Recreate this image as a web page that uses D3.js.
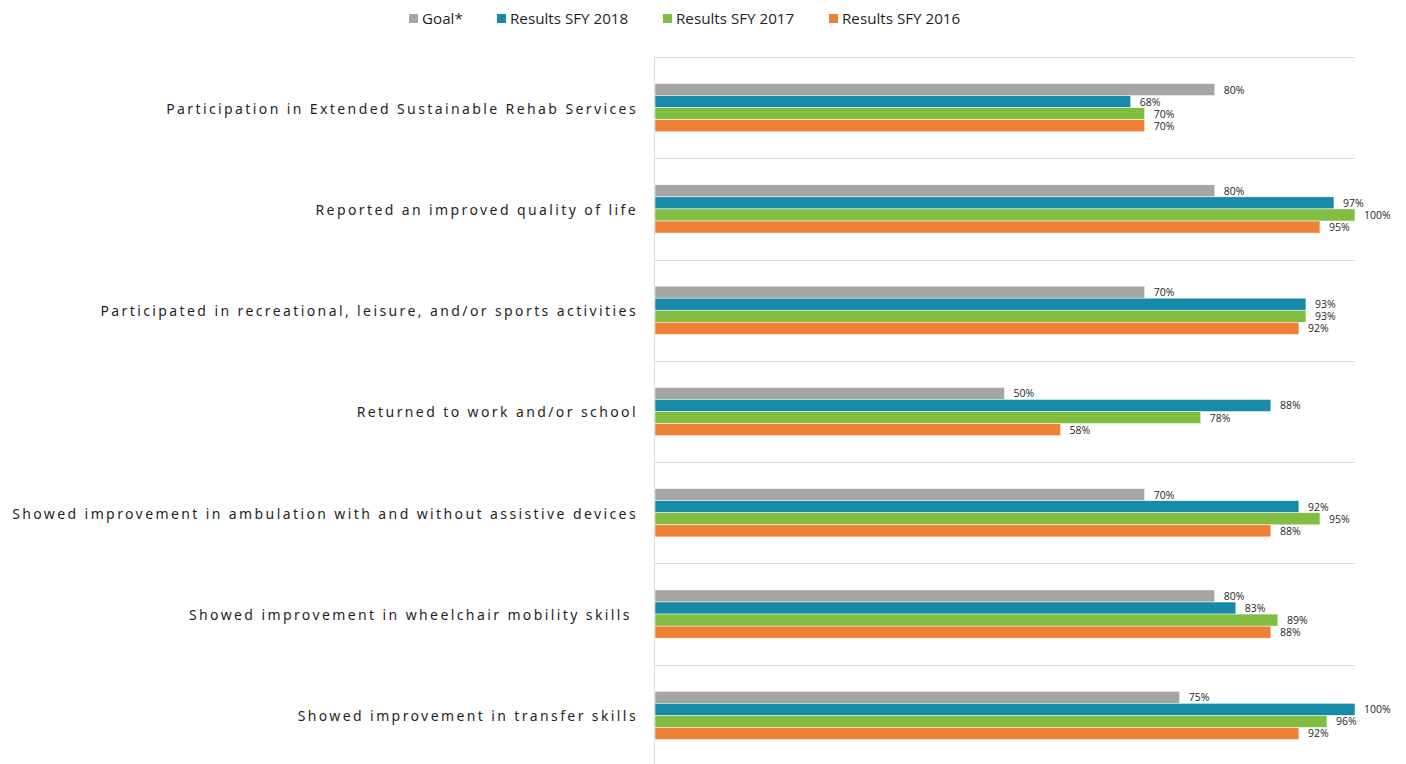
<!DOCTYPE html>
<html>
<head>
<meta charset="utf-8">
<script src="https://cdn.jsdelivr.net/npm/d3@7"></script>
<style>
  body { margin: 0; background: #fff; }
  svg { display: block; }
</style>
</head>
<body>
<svg id="chart" width="1406" height="764"></svg>
<script>
// chart data
const categories = [
    'Participation in Extended Sustainable Rehab Services',
    'Reported an improved quality of life',
    'Participated in recreational, leisure, and/or sports activities',
    'Returned to work and/or school',
    'Showed improvement in ambulation with and without assistive devices',
    'Showed improvement in wheelchair mobility skills ',
    'Showed improvement in transfer skills'
];
const seriesNames = ['Goal*', 'Results SFY 2018', 'Results SFY 2017', 'Results SFY 2016'];
const goal = [80, 80, 70, 50, 70, 80, 75];
const sfy2018 = [68, 97, 93, 88, 92, 83, 100];
const sfy2017 = [70, 100, 93, 78, 95, 89, 96];
const sfy2016 = [70, 95, 92, 58, 88, 88, 92];
const colors = ['#a5a5a5', '#168aa8', '#80bd41', '#ee8033'];

const seriesValues = [goal, sfy2018, sfy2017, sfy2016];

const svg = d3.select('#chart');
const plotLeft = 654, plotRight = 1355, plotTop = 57, plotBottom = 766;

const xScale = d3.scaleLinear().domain([0, 100]).range([plotLeft, plotRight]);
const yScale = d3.scaleBand().domain(categories).range([plotTop, plotBottom]);
const inner = d3.scaleBand().domain(seriesNames)
    .range([0, yScale.bandwidth()])
    .paddingOuter(2.2);

// horizontal gridlines between categories
const gridYs = categories.map(c => yScale(c));
svg.append('g')
    .selectAll('line')
    .data(gridYs)
    .enter()
    .append('line')
    .attr('x1', plotLeft)
    .attr('x2', plotRight)
    .attr('y1', d => Math.round(d) + 0.5)
    .attr('y2', d => Math.round(d) + 0.5)
    .attr('stroke', '#d9d9d9')
    .attr('stroke-width', 1);

// vertical axis line
svg.append('line')
    .attr('x1', plotLeft + 0.5)
    .attr('x2', plotLeft + 0.5)
    .attr('y1', plotTop)
    .attr('y2', 764)
    .attr('stroke', '#d9d9d9');

// bars
const rows = [];
categories.forEach((c, i) => {
    seriesNames.forEach((s, j) => {
        rows.push({ category: c, series: s, value: seriesValues[j][i], color: colors[j] });
    });
});

const barsGroup = svg.append('g');
barsGroup.selectAll('.bar')
    .data(rows)
    .enter()
    .append('rect')
    .attr('class', 'bar')
    .attr('x', xScale(0) + 1)
    .attr('y', d => yScale(d.category) + inner(d.series))
    .attr('width', d => xScale(d.value) - xScale(0) - 1)
    .attr('height', inner.bandwidth())
    .attr('fill', d => d.color)
    .attr('stroke', '#fff')
    .attr('stroke-width', 0.5);

barsGroup.selectAll('.bar-label')
    .data(rows)
    .enter()
    .append('text')
    .attr('class', 'bar-label')
    .attr('x', d => xScale(d.value) + 9)
    .attr('y', d => yScale(d.category) + inner(d.series) + inner.bandwidth() / 2)
    .attr('dy', '0.38em')
    .attr('font-family', 'Open Sans, sans-serif')
    .attr('font-size', '10.5px')
    .attr('fill', '#262626')
    .text(d => d.value + '%');

// category labels
svg.append('g')
    .selectAll('text')
    .data(categories)
    .enter()
    .append('text')
    .attr('x', 638)
    .attr('y', d => yScale(d) + yScale.bandwidth() / 2)
    .attr('dy', '0.42em')
    .attr('text-anchor', 'end')
    .attr('font-family', 'Noto Sans, sans-serif')
    .attr('font-size', '14px')
    .attr('letter-spacing', '2.4px')
    .attr('fill', '#1f1f1f')
    .style('white-space', 'pre')
    .text(d => d);

// legend
const legendX = [409, 497, 663, 829];
const legend = svg.append('g');
seriesNames.forEach((s, j) => {
    legend.append('rect')
        .attr('x', legendX[j])
        .attr('y', 14)
        .attr('width', 9)
        .attr('height', 9)
        .attr('fill', colors[j]);
    legend.append('text')
        .attr('x', legendX[j] + 13)
        .attr('y', 18.5)
        .attr('dy', '0.36em')
        .attr('font-family', 'Open Sans, sans-serif')
        .attr('font-size', '15.2px')
        .attr('fill', '#1f1f1f')
        .text(s);
});
</script>
</body>
</html>
